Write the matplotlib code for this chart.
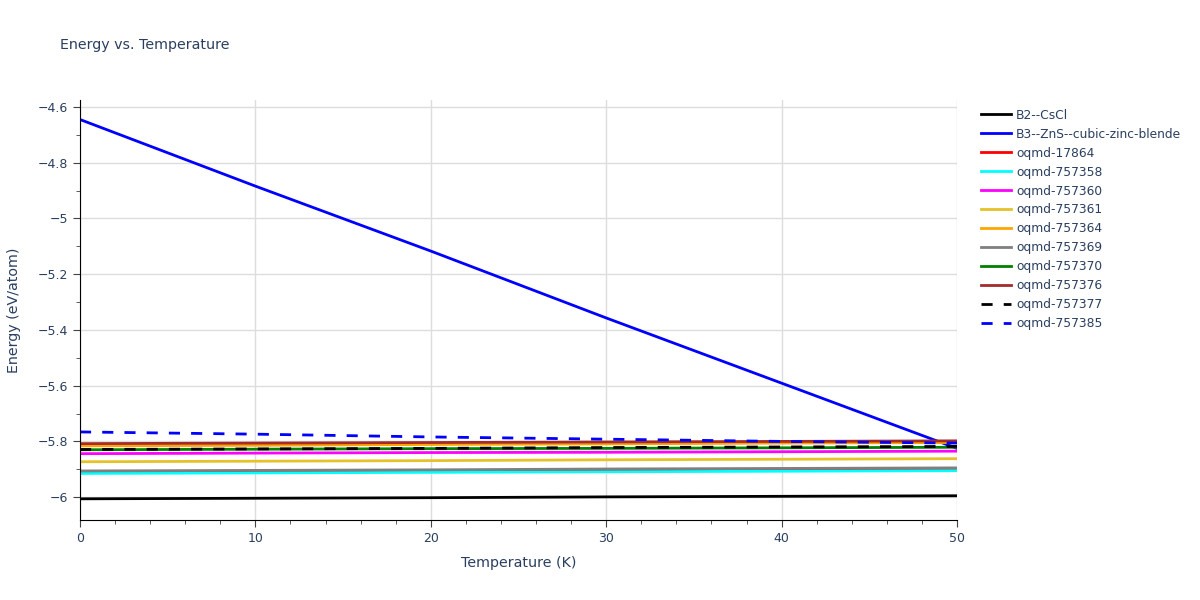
"""Energy vs. Temperature chart"""

import matplotlib
matplotlib.use("Agg")
import matplotlib.pyplot as plt
from matplotlib.ticker import MultipleLocator, FuncFormatter

temperature = [0, 10, 20, 30, 40, 50]

names = [
	"B2--CsCl", "B3--ZnS--cubic-zinc-blende", "oqmd-17864", "oqmd-757358",
	"oqmd-757360", "oqmd-757361", "oqmd-757364", "oqmd-757369",
	"oqmd-757370", "oqmd-757376", "oqmd-757377", "oqmd-757385",
]

b2_cscl = [-6.006, -6.004, -6.002, -5.999, -5.997, -5.995]
b3_zns = [-4.645, -4.884, -5.117, -5.357, -5.591, -5.825]
oqmd_17864 = [-5.911, -5.909, -5.907, -5.904, -5.902, -5.900]
oqmd_757358 = [-5.915, -5.913, -5.911, -5.909, -5.907, -5.905]
oqmd_757360 = [-5.844, -5.842, -5.840, -5.839, -5.837, -5.835]
oqmd_757361 = [-5.873, -5.871, -5.869, -5.866, -5.864, -5.862]
oqmd_757364 = [-5.816, -5.814, -5.811, -5.809, -5.806, -5.804]
oqmd_757369 = [-5.906, -5.904, -5.902, -5.899, -5.897, -5.895]
oqmd_757370 = [-5.830, -5.828, -5.826, -5.825, -5.823, -5.821]
oqmd_757376 = [-5.808, -5.806, -5.804, -5.802, -5.800, -5.798]
oqmd_757377 = [-5.829, -5.827, -5.825, -5.822, -5.820, -5.818]
oqmd_757385 = [-5.766, -5.774, -5.784, -5.792, -5.800, -5.806]

series = [b2_cscl, b3_zns, oqmd_17864, oqmd_757358, oqmd_757360, oqmd_757361,
	oqmd_757364, oqmd_757369, oqmd_757370, oqmd_757376, oqmd_757377, oqmd_757385]

colors = ["black", "blue", "red", "cyan", "magenta", "#e6c229", "orange",
	"gray", "green", "brown", "black", "blue"]
dashed = [False] * 10 + [True, True]

text_color = "#2a3f5f"

fig = plt.figure(figsize=(12, 6), dpi=100)
ax = fig.add_axes([80 / 1200, 80 / 600, 877 / 1200, 420 / 600])

for name, ys, c, d in zip(names, series, colors, dashed):
	ax.plot(temperature, ys, color=c, lw=2, label=name,
		linestyle=(0, (4, 4)) if d else "-")

ax.set_xlim(0, 50)
ax.set_ylim(-6.082, -4.575)

ax.xaxis.set_major_locator(MultipleLocator(10))
ax.xaxis.set_minor_locator(MultipleLocator(2))
ax.yaxis.set_major_locator(MultipleLocator(0.2))
ax.yaxis.set_minor_locator(MultipleLocator(0.1))
ax.yaxis.set_major_formatter(FuncFormatter(lambda v, p: ("%g" % round(v, 2)).replace("-", "\u2212")))

ax.grid(True, which="major", color="#dddddd", lw=1)
ax.set_axisbelow(True)
for side in ["top", "right"]:
	ax.spines[side].set_visible(False)
for side in ["left", "bottom"]:
	ax.spines[side].set_color("black")
ax.tick_params(which="major", length=5, color="#444444", labelcolor=text_color, labelsize=9)
ax.tick_params(which="minor", length=3, color="#444444")

ax.set_xlabel("Temperature (K)", color=text_color, fontsize=10.3, labelpad=8)
ax.set_ylabel("Energy (eV/atom)", color=text_color, fontsize=10.3, labelpad=12)

fig.text(60 / 1200, 1 - 45 / 600, "Energy vs. Temperature", color=text_color,
	fontsize=10.3, va="center", ha="left")

leg = ax.legend(loc="upper left", bbox_to_anchor=(1.018, 1.0), frameon=False,
	fontsize=8.8, handlelength=2.4, handletextpad=0.45, labelspacing=0.49,
	borderaxespad=0.3)
for t in leg.get_texts():
	t.set_color(text_color)

fig.savefig("out.png", dpi=100)
